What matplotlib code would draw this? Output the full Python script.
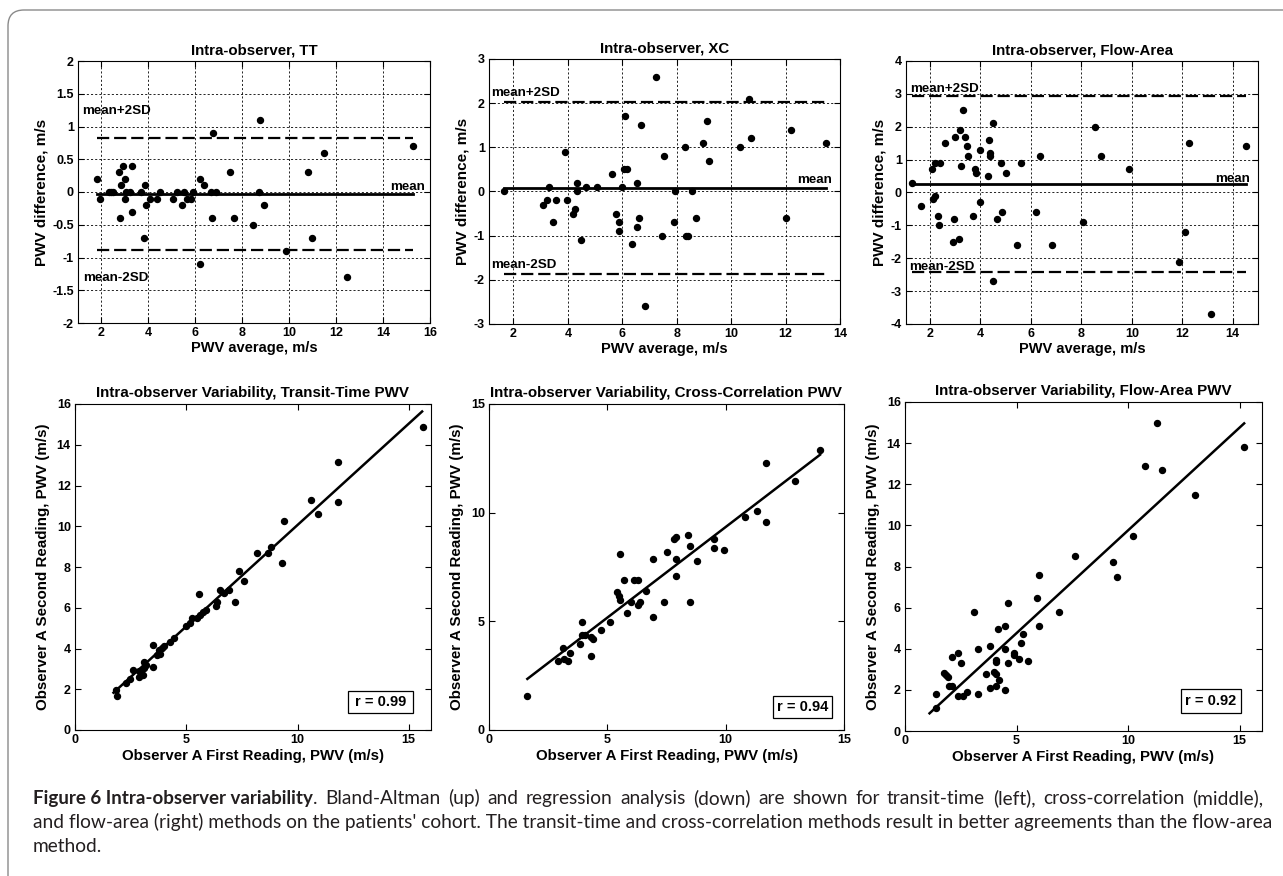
import matplotlib
matplotlib.use("Agg")
import numpy as np
import matplotlib.pyplot as plt
from matplotlib.patches import FancyBboxPatch, Rectangle
from matplotlib.transforms import IdentityTransform

plt.rcParams['font.family'] = ['Liberation Sans', 'DejaVu Sans']

# --- Bland-Altman data (PWV average vs difference, m/s) ---
tt_avg = [1.8, 1.95, 2.3, 2.4, 2.5, 2.75, 2.8, 2.85, 2.9, 3.0, 3.0, 3.05, 3.2, 3.28, 3.3,
          3.7, 3.85, 3.83, 3.9, 4.05, 4.35, 4.5, 5.05, 5.2, 5.42, 5.53, 5.65, 5.8, 5.9,
          6.2, 6.35, 6.18, 6.68, 6.7, 6.75, 6.9, 7.46, 7.63, 8.45, 8.7, 8.75, 8.94,
          9.86, 10.78, 10.96, 11.5, 12.48, 15.26]
tt_diff = [0.2, -0.1, 0.0, 0.0, 0.0, 0.3, -0.4, 0.1, 0.4, -0.1, 0.2, 0.0, 0.0, -0.3, 0.4,
           0.0, 0.1, -0.7, -0.2, -0.1, -0.1, 0.0, -0.1, 0.0, -0.2, 0.0, -0.1, -0.1, 0.0,
           0.2, 0.1, -1.1, 0.0, -0.4, 0.9, 0.0, 0.3, -0.4, -0.5, 0.0, 1.1, -0.2,
           -0.9, 0.3, -0.7, 0.6, -1.3, 0.7]
tt_limits = [-0.03, 0.83, -0.89]   # mean, mean+2SD, mean-2SD

xc_avg = [1.65, 3.08, 3.24, 3.3, 3.47, 3.55, 3.9, 3.95, 4.18, 4.25, 4.33, 4.33, 4.48, 4.67,
          5.08, 5.62, 5.78, 5.88, 5.88, 5.97, 6.06, 6.1, 6.18, 6.34, 6.53, 6.53, 6.61, 6.69,
          6.83, 7.23, 7.44, 7.53, 7.89, 7.94, 8.32, 8.33, 8.43, 8.55, 8.71, 8.97, 9.13,
          9.19, 10.33, 10.66, 10.72, 12.01, 12.21, 13.47]
xc_diff = [0.0, -0.3, -0.2, 0.1, -0.7, -0.2, 0.9, -0.2, -0.5, -0.4, 0.2, 0.0, -1.1, 0.1,
           0.1, 0.4, -0.5, -0.7, -0.9, 0.1, 0.5, 1.7, 0.5, -1.2, 0.2, -0.8, -0.6, 1.5,
           -2.6, 2.6, -1.0, 0.8, -0.7, 0.0, 1.0, -1.0, -1.0, 0.0, -0.6, 1.1, 1.6,
           0.7, 1.0, 2.1, 1.2, -0.6, 1.4, 1.1]
xc_limits = [0.085, 2.03, -1.86]

fa_avg = [1.27, 1.63, 2.07, 2.12, 2.18, 2.18, 2.32, 2.36, 2.4, 2.6, 2.92, 2.95, 2.99, 3.15,
          3.19, 3.24, 3.3, 3.4, 3.45, 3.5, 3.7, 3.78, 3.83, 3.98, 4.0, 4.28, 4.33, 4.36,
          4.38, 4.49, 4.5, 4.65, 4.81, 4.85, 5.03, 5.44, 5.6, 6.22, 6.38, 6.83, 8.08,
          8.53, 8.78, 9.9, 11.86, 12.11, 12.26, 13.14, 14.51]
fa_diff = [0.3, -0.4, 0.7, -0.2, -0.1, 0.9, -0.7, -1.0, 0.9, 1.5, -1.5, -0.8, 1.7, -1.4,
           1.9, 0.8, 2.5, 1.7, 1.4, 1.1, -0.7, 0.7, 0.6, -0.3, 1.3, 0.5, 1.6, 1.2,
           1.1, -2.7, 2.1, -0.8, 0.9, -0.6, 0.6, -1.6, 0.9, -0.6, 1.1, -1.6, -0.9,
           2.0, 1.1, 0.7, -2.1, -1.2, 1.5, -3.7, 1.4]
fa_limits = [0.265, 2.94, -2.41]

# --- Regression data (first vs second reading, m/s) ---
tt_first = [1.88, 1.85, 2.3, 2.48, 2.59, 2.86, 2.89, 2.96, 3.05, 3.08, 3.11, 3.2, 3.49, 3.49,
            3.68, 3.76, 3.83, 3.91, 4.02, 4.29, 4.44, 4.99, 5.19, 5.26, 5.49, 5.58, 5.61,
            5.76, 5.91, 6.32, 6.36, 6.51, 6.69, 6.92, 7.19, 7.38, 7.59, 8.2, 8.68, 8.8,
            9.29, 9.4, 10.6, 10.9, 11.8, 11.8, 15.64]
tt_second = [1.69, 1.95, 2.29, 2.49, 2.95, 2.9, 2.62, 2.86, 2.7, 3.36, 3.03, 3.19, 4.17, 3.11,
             3.68, 3.93, 3.73, 4.01, 4.12, 4.34, 4.5, 5.1, 5.24, 5.48, 5.48, 6.68, 5.65,
             5.81, 5.89, 6.09, 6.3, 6.87, 6.71, 6.87, 6.3, 7.79, 7.3, 8.71, 8.71, 9.0,
             8.22, 10.28, 11.29, 10.6, 13.13, 11.21, 14.89]
tt_fit = [0.995, 0.11]          # slope, intercept
tt_fit_range = [1.73, 15.6]
tt_r = 0.99

xc_first = [1.62, 2.92, 3.13, 3.16, 3.34, 3.44, 3.84, 3.91, 3.95, 4.05, 4.3, 4.33, 4.4, 4.72,
            5.13, 5.39, 5.5, 5.53, 5.53, 5.71, 5.81, 5.99, 6.11, 6.3, 6.3, 6.4, 6.63, 6.91,
            6.91, 7.4, 7.52, 7.81, 7.91, 7.91, 7.91, 8.39, 8.5, 8.5, 8.8, 9.51, 9.51, 9.92,
            10.82, 11.31, 11.72, 11.72, 12.92, 13.99]
xc_second = [1.57, 3.18, 3.76, 3.26, 3.18, 3.56, 3.96, 4.96, 4.38, 4.38, 4.27, 3.41, 4.19, 4.59,
             4.96, 6.33, 6.18, 8.08, 5.99, 6.88, 5.38, 5.91, 6.88, 6.88, 5.76, 5.87, 6.41, 7.86,
             5.18, 5.87, 8.17, 8.79, 8.86, 7.88, 7.07, 8.99, 8.48, 5.88, 7.79, 8.8, 8.37, 8.28,
             9.78, 10.09, 12.29, 9.57, 11.47, 12.9]
xc_fit = [0.834, 1.0]
xc_fit_range = [1.62, 13.99]
xc_r = 0.94

fa_first = [1.4, 1.4, 1.77, 1.82, 1.92, 1.97, 2.12, 2.12, 2.38, 2.38, 2.52, 2.61, 2.79, 3.08,
            3.26, 3.28, 3.61, 3.8, 3.82, 4.01, 4.07, 4.07, 4.07, 4.1, 4.19, 4.22, 4.46, 4.49,
            4.49, 4.6, 4.6, 4.9, 4.9, 5.1, 5.22, 5.29, 5.5, 5.92, 5.99, 5.99, 6.9, 7.6,
            9.3, 9.48, 10.21, 10.76, 11.3, 11.5, 13.0, 15.2]
fa_second = [1.79, 1.1, 2.81, 2.74, 2.61, 2.21, 2.21, 3.59, 1.7, 3.78, 3.29, 1.7, 1.88, 5.8,
             3.98, 1.8, 2.78, 2.09, 4.11, 2.89, 2.76, 3.46, 3.36, 2.21, 4.98, 2.48, 5.11, 3.98,
             2.0, 6.22, 3.3, 3.81, 3.7, 3.49, 4.3, 4.71, 3.38, 6.49, 7.61, 5.11, 5.8, 8.49,
             8.2, 7.48, 9.5, 12.89, 15.0, 12.71, 11.49, 13.8]
fa_fit = [1.0, -0.24]
fa_fit_range = [1.1, 15.2]
fa_r = 0.92

W, H = 1283, 876
fig = plt.figure(figsize=(W / 100, H / 100), dpi=100)
fig.patch.set_facecolor('white')

# rounded frame around the figure
frame = FancyBboxPatch((8, -40), 1320, H - 10 + 40, boxstyle="round,pad=0,rounding_size=16",
                       transform=IdentityTransform(), fc='none', ec='#8a8a8a', lw=1.0)
fig.patches.append(frame)


def px_axes(l, t, r, b):
    return fig.add_axes([l / W, 1 - b / H, (r - l) / W, (b - t) / H])


def style(ax):
    ax.tick_params(direction='in', top=True, right=True, length=4, width=0.8,
                   labelsize=9, pad=3)
    for s in ax.spines.values():
        s.set_linewidth(0.8)
    for lab in ax.get_xticklabels() + ax.get_yticklabels():
        lab.set_fontweight('bold')


def bland_altman(ax, x, d, limits, xlim, ylim, yticks, xticks, title, lab_pos):
    mean, up, lo = limits
    ax.set_xlim(*xlim)
    ax.set_ylim(*ylim)
    ax.set_xticks(xticks)
    ax.set_yticks(yticks)
    ax.set_yticklabels([f'{v:g}' for v in yticks])
    ax.grid(True, color='black', linestyle=(0, (2.5, 2.5)), linewidth=0.6)
    ax.set_axisbelow(True)
    x0, x1 = min(x), max(x)
    ax.plot([x0, x1], [mean, mean], color='black', lw=2.0)
    ax.plot([x0, x1], [up, up], color='black', lw=1.6, dashes=(5.5, 2.2))
    ax.plot([x0, x1], [lo, lo], color='black', lw=1.6, dashes=(5.5, 2.2))
    ax.plot(x, d, 'o', color='black', ms=4.3)
    (ux, uy), (lx, ly), (mx, my) = lab_pos
    ax.text(ux, uy, 'mean+2SD', fontsize=9.6, fontweight='bold', va='center', ha='left')
    ax.text(lx, ly, 'mean-2SD', fontsize=9.6, fontweight='bold', va='center', ha='left')
    ax.text(mx, my, 'mean', fontsize=9.6, fontweight='bold', va='center', ha='right')
    ax.set_title(title, fontsize=10.8, fontweight='bold', pad=5)
    ax.set_xlabel('PWV average, m/s', fontsize=10.5, fontweight='bold', labelpad=1)
    ax.set_ylabel('PWV difference, m/s', fontsize=11, fontweight='bold', labelpad=3)
    style(ax)


def regression(ax, a, b, fit, fit_range, r, lim, ticks, title, r_box):
    ax.set_xlim(0, lim[0])
    ax.set_ylim(0, lim[1])
    ax.set_xticks(ticks[0])
    ax.set_yticks(ticks[1])
    fx = np.array(fit_range)
    ax.plot(fx, fit[0] * fx + fit[1], color='black', lw=1.8)
    ax.plot(a, b, 'o', color='black', ms=4.3)
    bx0, by0, bx1, by1 = r_box
    ax.add_patch(Rectangle((bx0, by0), bx1 - bx0, by1 - by0, transform=ax.transAxes,
                           fc='white', ec='black', lw=0.9, zorder=3))
    ax.text((bx0 + bx1) / 2, (by0 + by1) / 2, f'r = {r:.2f}', transform=ax.transAxes,
            fontsize=10.5, fontweight='bold', ha='center', va='center', zorder=4)
    ax.set_title(title, fontsize=10.9, fontweight='bold', pad=5)
    ax.set_xlabel('Observer A First Reading, PWV (m/s)', fontsize=10.8, fontweight='bold',
                  labelpad=2)
    ax.set_ylabel('Observer A Second Reading, PWV (m/s)', fontsize=10.9, fontweight='bold',
                  labelpad=5)
    style(ax)


ax1 = px_axes(78, 61, 430, 323)
bland_altman(ax1, tt_avg, tt_diff, tt_limits, (1, 16), (-2, 2), np.arange(-2, 2.01, 0.5),
             np.arange(2, 17, 2), 'Intra-observer, TT',
             [(1.18, 1.23), (1.2, -1.31), (15.8, 0.08)])

ax2 = px_axes(489, 59, 840, 324)
bland_altman(ax2, xc_avg, xc_diff, xc_limits, (1.1, 14), (-3, 3), np.arange(-3, 4, 1),
             np.arange(2, 15, 2), 'Intra-observer, XC',
             [(1.18, 2.22), (1.18, -1.67), (13.7, 0.25)])

ax3 = px_axes(906, 61, 1258, 324)
bland_altman(ax3, fa_avg, fa_diff, fa_limits, (1.05, 15), (-4, 4), np.arange(-4, 5, 1),
             np.arange(2, 15, 2), 'Intra-observer, Flow-Area',
             [(1.21, 3.16), (1.18, -2.28), (14.7, 0.42)])

ax4 = px_axes(75, 404, 431, 730)
regression(ax4, tt_first, tt_second, tt_fit, tt_fit_range, tt_r, (16, 16),
           ([0, 5, 10, 15], np.arange(0, 17, 2)),
           'Intra-observer Variability, Transit-Time PWV', (0.767, 0.052, 0.949, 0.120))

ax5 = px_axes(489, 404, 844, 730)
regression(ax5, xc_first, xc_second, xc_fit, xc_fit_range, xc_r, (15, 15),
           ([0, 5, 10, 15], [0, 5, 10, 15]),
           'Intra-observer Variability, Cross-Correlation PWV', (0.799, 0.037, 0.966, 0.104))

ax6 = px_axes(905, 402, 1262, 731)
regression(ax6, fa_first, fa_second, fa_fit, fa_fit_range, fa_r, (16, 16),
           ([0, 5, 10, 15], np.arange(0, 17, 2)),
           'Intra-observer Variability, Flow-Area PWV', (0.773, 0.055, 0.941, 0.128))

# caption (first line spread to the right margin)
cap_font = ['Lato', 'DejaVu Sans']
cap_col = '#231f20'
cap_size = 13.8
cap_x = 33
cap_right = 1263
renderer = fig.canvas.get_renderer()

t_bold = fig.text(cap_x / W, 1 - 804 / H, 'Figure 6 Intra-observer variability', family=cap_font,
                  fontsize=13.5, fontweight='bold', color=cap_col, va='baseline')
bold_end = t_bold.get_window_extent(renderer).x1

line1 = ('. Bland-Altman (up) and regression analysis (down) are shown for transit-time (left), '
         'cross-correlation (middle),').split(' ')
words = [fig.text(0, 1 - 804 / H, w, family=cap_font, fontsize=cap_size, color=cap_col,
                  va='baseline') for w in line1]
widths = [w.get_window_extent(renderer).width for w in words]
gap = (cap_right - bold_end - sum(widths)) / (len(words) - 1)
xpos = bold_end
for w, wd in zip(words, widths):
    w.set_x(xpos / W)
    xpos += wd + gap

fig.text(cap_x / W, 1 - 828 / H,
         "and flow-area (right) methods on the patients' cohort. The transit-time and "
         "cross-correlation methods result in better agreements than the flow-area",
         family=cap_font, fontsize=cap_size, color=cap_col, va='baseline')
fig.text(cap_x / W, 1 - 852 / H, 'method.', family=cap_font, fontsize=cap_size, color=cap_col,
         va='baseline')

fig.savefig('out.png', dpi=100)
